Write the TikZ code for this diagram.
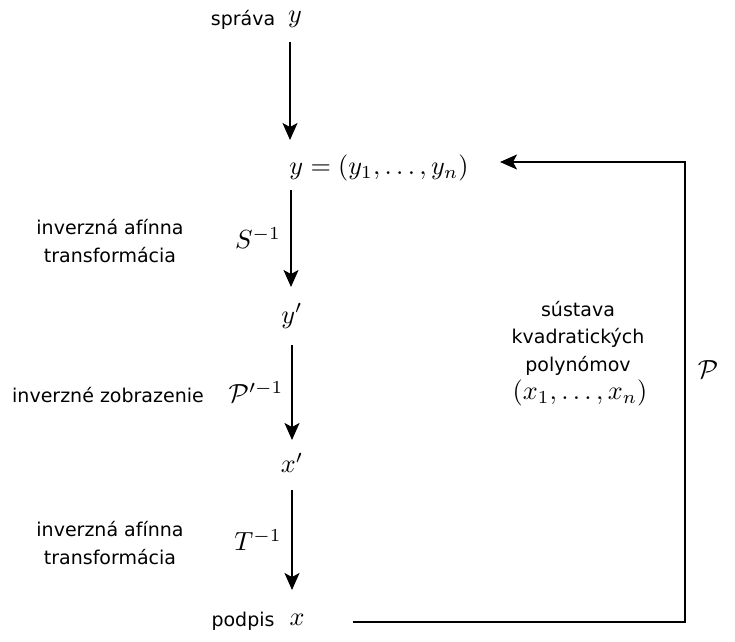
\documentclass[tikz,border=0pt]{standalone}
\usepackage{fontspec}
\newfontfamily\lbl{DejaVu Sans}
\usetikzlibrary{arrows.meta}
\begin{document}
\begin{tikzpicture}[x=1pt,y=-1pt,
  txt/.style={font=\lbl\fontsize{19}{27.5}\selectfont, inner sep=0pt, align=center},
  mth/.style={scale=2.62, inner sep=0pt},
  arr/.style={line width=1.5pt, -{Stealth[length=17pt,width=15pt,inset=4pt]}},
  ln/.style={line width=1.5pt}]
\useasboundingbox (0,0) rectangle (735,641);
% top
\node[txt] (sprava) at (243,20) {správa};
\node[mth] (y0) at (295,19) {$y$};
\node[mth] (ytup) at (379,168) {$y=(y_1,\ldots,y_n)$};
\node[mth] (yp) at (292,316) {$y'$};
\node[mth] (xp) at (292,463) {$x'$};
\node[txt] (podpis) at (243,621) {podpis};
\node[mth] (xs) at (297,620) {$x$};
% left labels
\node[txt] (lab1) at (110,241) {inverzná afínna\\transformácia};
\node[mth] (S) at (258,238) {$S^{-1}$};
\node[txt] (lab2) at (108,395) {inverzné zobrazenie};
\node[mth] (Pinv) at (256,392) {$\mathcal{P}'^{-1}$};
\node[txt] (lab3) at (110,543) {inverzná afínna\\transformácia};
\node[mth] (T) at (258,540) {$T^{-1}$};
% right labels
\node[txt] (lab4) at (578,338) {sústava\\kvadratických\\polynómov};
\node[mth] (xtup) at (580,393) {$(x_1,\ldots,x_n)$};
\node[mth] (P) at (708,370) {$\mathcal{P}$};
% arrow endpoints
\coordinate (a1s) at (290,42);  \coordinate (a1e) at (290,140);
\coordinate (a2s) at (291,190); \coordinate (a2e) at (291,287);
\coordinate (a3s) at (292,345); \coordinate (a3e) at (292,440);
\coordinate (a4s) at (292,490); \coordinate (a4e) at (292,590);
\coordinate (fs) at (353,622); \coordinate (fc) at (685,162); \coordinate (fe) at (500,162);
\draw[arr] (a1s) -- (a1e);
\draw[arr] (a2s) -- (a2e);
\draw[arr] (a3s) -- (a3e);
\draw[arr] (a4s) -- (a4e);
\draw[arr] (fs) -| (fc) -- (fe);
\end{tikzpicture}
\end{document}
